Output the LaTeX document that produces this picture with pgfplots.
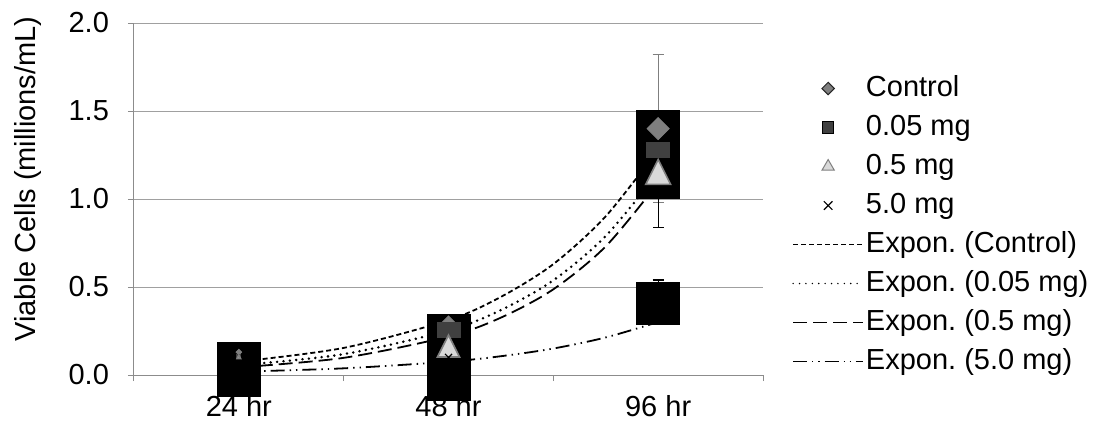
\documentclass[border=0pt]{standalone}
\usepackage{pgfplots}
\pgfplotsset{compat=1.18}
\usepackage{pgfplotstable}
\usepackage{fontspec}
\setmainfont{Liberation Sans}
\frenchspacing
\definecolor{gridc}{HTML}{A0A0A0}
\definecolor{axc}{HTML}{8C8C8C}
\definecolor{ctrl}{HTML}{7F7F7F}
\definecolor{sqc}{HTML}{404040}
\definecolor{trif}{HTML}{D9D9D9}
\definecolor{trid}{HTML}{7F7F7F}

% markers: x (category index), y (mean), ms (marker size, pt)
\pgfplotstableread{
x y ms
1 0.13 1.0
2 0.295 2.5
3 1.40 3.9
}\tabCtrl
\pgfplotstableread{
x y ms
1 0.11 1.0
2 0.256 5.75
3 1.28 5.75
}\tabA
\pgfplotstableread{
x y ms
1 0.10 1.0
2 0.144 6.35
3 1.13 7.2
}\tabB
\pgfplotstableread{
x y ms
1 0.03 2.5
2 0.10 2.5
3 0.42 2.5
}\tabC
% thin error bars
\pgfplotstableread{
x y e
1 0.13 0.02
2 0.295 0.03
3 1.40 0.42
}\errCtrl
\pgfplotstableread{
x y e
1 0.10 0.02
2 0.144 0.04
3 1.13 0.29
3 0.42 0.12
}\errBlack
% black boxes (centre, half height)
\pgfplotstableread{
x y e
1 0.03125 0.15625
2 0.0994 0.247
3 1.253 0.253
3 0.406 0.122
}\boxes
% exponential trend lines
\pgfplotstableread{
x y
1 0.0757
1.5 0.154
2 0.312
2.25 0.444
2.5 0.630
2.75 0.902
3 1.281
}\trCtrl
\pgfplotstableread{
x y
1 0.0554
1.5 0.1185
2 0.253
2.25 0.369
2.5 0.538
2.75 0.790
3 1.150
}\trA
\pgfplotstableread{
x y
1 0.0435
1.5 0.0975
2 0.219
2.25 0.326
2.5 0.487
2.75 0.731
3 1.091
}\trB
\pgfplotstableread{
x y
1 0.0189
1.5 0.0379
2 0.0757
2.25 0.1068
2.5 0.1505
2.75 0.2135
3 0.301
}\trC

\begin{document}
\begin{tikzpicture}
\begin{axis}[
  name=ax,
  scale only axis, width=314.5pt, height=176pt,
  xmin=0.5, xmax=3.5, ymin=0, ymax=2,
  clip=false,
  axis x line*=bottom, axis y line*=left,
  axis line style={axc, line width=0.5pt},
  tick align=outside,
  major tick length=3pt,
  tick style={axc, line width=0.5pt},
  xtick={0.5,1.5,2.5,3.5}, xticklabels={,,,},
  extra x ticks={1,2,3}, extra x tick labels={24 hr,48 hr,96 hr},
  extra x tick style={grid=none, major tick length=0pt},
  x tick label style={yshift=-6.5pt},
  y tick label style={xshift=-6pt},
  ytick={0,0.5,1,1.5,2},
  /pgf/number format/fixed, /pgf/number format/fixed zerofill,
  /pgf/number format/precision=1,
  /pgf/number format/assume math mode=true,
  ymajorgrids, grid style={gridc, line width=0.5pt},
  font=\fontsize{14.5}{17}\selectfont,
  ylabel={Viable Cells (millions/mL)},
  ylabel style={at={(axis description cs:-0.169,0.557)}, anchor=center},
  legend style={at={(axis description cs:1.046,0.859)}, anchor=north west,
    draw=none, fill=none, inner sep=0pt, row sep=4pt,
    nodes={inner sep=1pt, text height=10.5pt, text depth=3pt}},
  legend cell align=left,
  legend image code/.code={\draw[mark repeat=2,mark phase=2,#1] plot coordinates {(0pt,0pt) (17.5pt,0pt) (35pt,0pt)};},
  legend entries={Control, 0.05 mg, 0.5 mg, 5.0 mg, Expon. (Control), Expon. (0.05 mg), Expon. (0.5 mg), Expon. (5.0 mg)},
]
% trend lines (under everything)
\addplot[forget plot, black, line width=0.9pt, dash pattern=on 2.5pt off 1.5pt, smooth] table {\trCtrl};
\addplot[forget plot, black, line width=0.9pt, dash pattern=on 7pt off 3pt, smooth] table {\trB};
\addplot[forget plot, black, line width=0.9pt, dash pattern=on 7pt off 2.5pt on 0.7pt off 2.5pt on 0.7pt off 2.5pt, smooth] table {\trC};
% thin error bars
\addplot[forget plot, only marks, mark=none, error bars/.cd, y dir=both, y explicit,
  error bar style={ctrl, line width=0.6pt}, error mark options={rotate=90, ctrl, mark size=2.75pt, line width=0.6pt}]
  table[y error=e] {\errCtrl};
\addplot[forget plot, only marks, mark=none, error bars/.cd, y dir=both, y explicit,
  error bar style={black, line width=0.6pt}, error mark options={rotate=90, black, mark size=2.75pt, line width=0.6pt}]
  table[y error=e] {\errBlack};
% black boxes
\addplot[forget plot, only marks, mark=none, error bars/.cd, y dir=both, y explicit,
  error mark=none, error bar style={black, line width=22pt}]
  table[y error=e] {\boxes};
% markers
\addplot[forget plot, scatter, only marks, mark=square*, mark options={rotate=45},
  scatter/use mapped color={draw=ctrl, fill=ctrl},
  visualization depends on={\thisrow{ms}\as\msz},
  scatter/@pre marker code/.append style={/tikz/mark size=\msz pt}] table {\tabCtrl};
\addplot[forget plot, scatter, only marks, mark=square*, mark options={yscale=0.65},
  scatter/use mapped color={draw=sqc, fill=sqc},
  visualization depends on={\thisrow{ms}\as\msz},
  scatter/@pre marker code/.append style={/tikz/mark size=\msz pt}] table {\tabA};
\addplot[forget plot, scatter, only marks, mark=triangle*, mark options={yscale=1.15, line width=0.8pt},
  scatter/use mapped color={draw=trid, fill=trif},
  visualization depends on={\thisrow{ms}\as\msz},
  scatter/@pre marker code/.append style={/tikz/mark size=\msz pt}] table {\tabB};
\addplot[forget plot, only marks, mark=x, mark size=2.5pt, black, mark options={line width=0.6pt}] table {\tabC};
% dotted trend line on top
\addplot[forget plot, black, line width=1.4pt, line cap=round, dash pattern=on 0pt off 3.2pt, smooth] table {\trA};
% legend images
\addlegendimage{only marks, mark=square*, mark options={rotate=45, fill=ctrl, draw=black!85, line width=0.5pt}, mark size=2.2pt}
\addlegendimage{only marks, mark=square*, mark options={fill=sqc, draw=black, line width=0.5pt}, mark size=2.8pt}
\addlegendimage{only marks, mark=triangle*, mark options={fill=trif, draw=trid, line width=0.5pt}, mark size=3.5pt}
\addlegendimage{only marks, mark=x, mark options={black, line width=0.6pt}, mark size=3pt}
\addlegendimage{black, line width=0.6pt, dash pattern=on 2.5pt off 1.5pt}
\addlegendimage{black, line width=0.8pt, line cap=round, dash pattern=on 0pt off 3.2pt}
\addlegendimage{black, line width=0.6pt, dash pattern=on 7pt off 3pt}
\addlegendimage{black, line width=0.6pt, dash pattern=on 7pt off 2.5pt on 0.6pt off 2.5pt on 0.6pt off 2.5pt}
\end{axis}
\pgfresetboundingbox
\path[use as bounding box] ([shift={(-67pt,-24pt)}]ax.south west) rectangle ([shift={(480.5pt,187.5pt)}]ax.south west);
\end{tikzpicture}
\end{document}
